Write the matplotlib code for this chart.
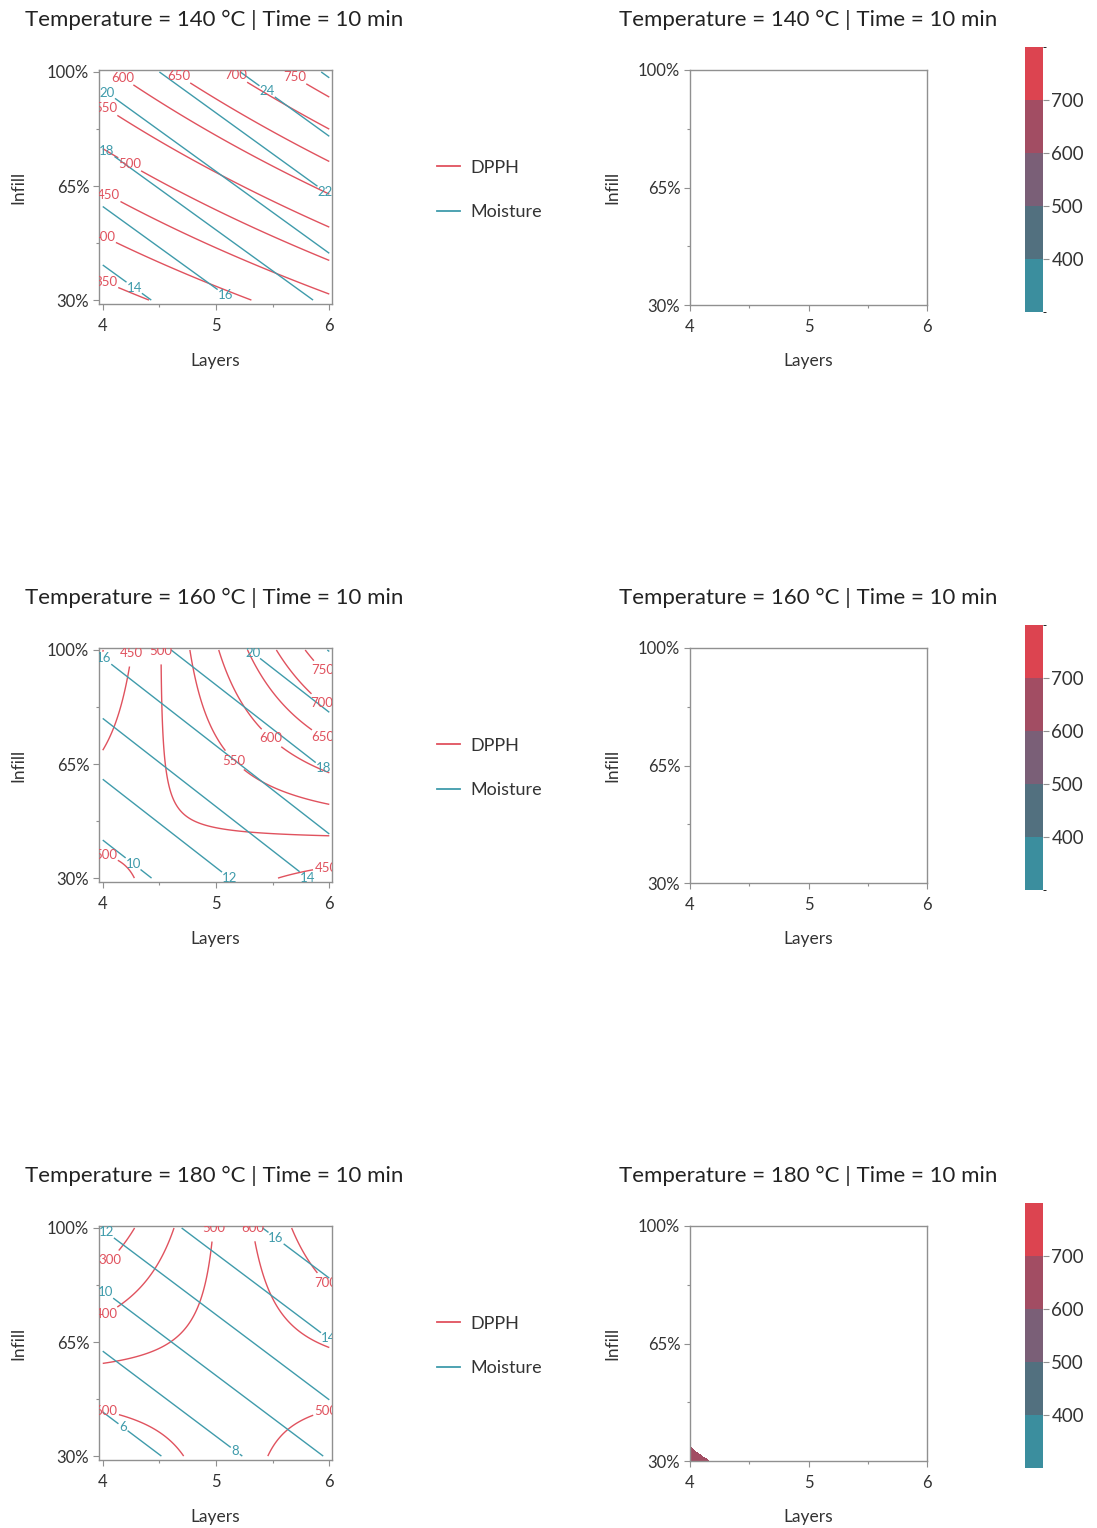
import numpy as np
import matplotlib.pyplot as plt
from matplotlib.colors import ListedColormap, BoundaryNorm
from matplotlib.lines import Line2D
import matplotlib.ticker as mticker

plt.rcParams['font.family'] = ['Lato', 'DejaVu Sans']

W, H = 1097, 1528

temperatures = [140, 160, 180]
time_min = 10

# response surfaces in coded units: x = layers - 5, y = (infill - 65) / 35
# terms: [const, x, y, x*y, x^2, y^2]
dpph_140 = [531.8, 77.8, 152.5, 21.7, 2.8, 2.9]
dpph_160 = [535.1, 78.5, 61.9, 117.9, 0.2, -1.7]
dpph_180 = [530.8, 76.9, -27.3, 211.7, 1.2, 3.3]
moist_140 = [19.5, 2.8, 3.9, 0, 0, 0]
moist_160 = [15.4, 2.9, 3.75, 0, 0, 0]
moist_180 = [11.1, 2.8, 3.75, 0, 0, 0]

dpph_levels_140 = [300, 350, 400, 450, 500, 550, 600, 650, 700, 750, 800]
dpph_levels_160 = [400, 450, 500, 550, 600, 650, 700, 750, 800]
dpph_levels_180 = [300, 400, 500, 600, 700, 800]
moist_levels = [4, 6, 8, 10, 12, 14, 16, 18, 20, 22, 24, 26]
moisture_max = 5

fill_levels = [300, 400, 500, 600, 700, 800]
fill_colors = ['#3b8e9e', '#52707f', '#7a5f77', '#a24d63', '#dc4450']
cbar_ticks = [400, 500, 600, 700]

# where the contour labels sit (layers, infill)
dpph_lab_140 = [(4.04, 36.3), (4.02, 50.0), (4.05, 61.9), (4.25, 72.4), (4.05, 89.9),
                (4.18, 98.6), (4.67, 98.6), (5.17, 98.6), (5.7, 98.6)]
moist_lab_140 = [(4.28, 33.9), (5.08, 31.4), (4.06, 76.9), (4.05, 94.0), (5.97, 63.6), (5.45, 94.0)]
dpph_lab_160 = [(4.26, 98.9), (4.51, 99.6), (5.17, 66.4), (5.49, 73.0), (5.94, 73.0),
                (5.93, 83.9), (5.93, 93.3), (4.02, 36.3), (5.97, 33.5)]
moist_lab_160 = [(4.02, 97.9), (4.27, 34.5), (5.14, 31.0), (5.81, 30.4), (5.96, 64.3), (5.34, 99.9)]
dpph_lab_180 = [(4.06, 90.2), (4.03, 73.6), (4.96, 99.9), (5.22, 99.3), (5.96, 82.8),
                (4.03, 43.6), (5.97, 43.6)]
moist_lab_180 = [(4.03, 98.6), (4.03, 80.4), (5.17, 31.6), (4.18, 38.9), (5.97, 65.0), (5.52, 96.4)]

dpph = {140: dpph_140, 160: dpph_160, 180: dpph_180}
moist = {140: moist_140, 160: moist_160, 180: moist_180}
dpph_levels = {140: dpph_levels_140, 160: dpph_levels_160, 180: dpph_levels_180}
dpph_lab = {140: dpph_lab_140, 160: dpph_lab_160, 180: dpph_lab_180}
moist_lab = {140: moist_lab_140, 160: moist_lab_160, 180: moist_lab_180}


def surface(c, L, I):
    x = L - 5
    y = (I - 65) / 35
    return c[0] + c[1] * x + c[2] * y + c[3] * x * y + c[4] * x ** 2 + c[5] * y ** 2


def rect(l, t, r, b):
    return [l / W, 1 - b / H, (r - l) / W, (b - t) / H]


red = '#e0525e'
teal = '#3f9bab'
spine_c = '#909090'
text_c = '#333333'

cmap = ListedColormap(fill_colors)
norm = BoundaryNorm(fill_levels, cmap.N)

layers = np.linspace(4, 6, 300)
infill = np.linspace(30, 100, 300)
L, I = np.meshgrid(layers, infill)

fig = plt.figure(figsize=(W / 100, H / 100), dpi=100)


def style_axes(ax):
    ax.set_xticks([4, 5, 6])
    ax.set_xticks([4.5, 5.5], minor=True)
    ax.set_yticks([30, 65, 100])
    ax.set_yticks([47.5, 82.5], minor=True)
    ax.yaxis.set_major_formatter(mticker.FuncFormatter(lambda v, p: f'{v:.0f}%'))
    ax.tick_params(which='major', direction='out', length=4, width=0.8, color=spine_c,
                   labelsize=12, labelcolor=text_c)
    ax.tick_params(axis='x', which='major', pad=6)
    ax.tick_params(axis='y', which='major', pad=3)
    ax.tick_params(which='minor', direction='out', length=2.5, width=0.8, color=spine_c)
    for s in ax.spines.values():
        s.set_color(spine_c)
        s.set_linewidth(1.0)
    ax.set_xlabel('Layers', fontsize=12.5, color=text_c)
    ax.set_ylabel('Infill', fontsize=12.5, color=text_c)
    ax.xaxis.label.set_va('center')
    ax.yaxis.label.set_va('center')


def add_labels(ax, cs, spots):
    ax.clabel(cs, fmt='%d', fontsize=9.5, inline=True, inline_spacing=2, manual=spots)
    for t in cs.labelTexts:
        t.set_rotation(0)
        t.set_clip_on(True)


for i, T in enumerate(temperatures):
    top = 70 + 578 * i
    title = f'Temperature = {T} °C | Time = {time_min} min'
    D = surface(dpph[T], L, I)
    M = surface(moist[T], L, I)

    # left: DPPH and moisture contour lines
    ax = fig.add_axes(rect(99, top, 332, top + 234))
    cs1 = ax.contour(L, I, D, levels=dpph_levels[T], colors=red, linewidths=1.0)
    cs2 = ax.contour(L, I, M, levels=moist_levels, colors=teal, linewidths=1.0)
    add_labels(ax, cs1, dpph_lab[T])
    add_labels(ax, cs2, moist_lab[T])
    ax.set_xlim(3.967, 6.024)
    ax.set_ylim(28.8, 100.6)
    style_axes(ax)
    ax.xaxis.set_label_coords(0.5, (234 - 291) / 234)
    ax.yaxis.set_label_coords((18 - 99) / 233, 0.5)
    fig.text(214.5 / W, 1 - (top - 50) / H, title, ha='center', va='center', fontsize=16, color='#222222')

    handles = [Line2D([], [], color=red, lw=1.3), Line2D([], [], color=teal, lw=1.3)]
    fig.legend(handles, ['DPPH', 'Moisture'], loc='center left',
               bbox_to_anchor=(421 / W, 1 - (top + 120) / H), frameon=False, fontsize=13,
               handlelength=1.25, handletextpad=0.6, labelspacing=1.6, labelcolor=text_c)

    # right: DPPH only where moisture stays under the limit
    ax2 = fig.add_axes(rect(690, top, 927, top + 235))
    ok = M <= moisture_max
    if ok.any():
        ax2.contourf(L, I, np.where(ok, D, np.nan), levels=fill_levels, cmap=cmap, norm=norm)
    ax2.set_xlim(4, 6)
    ax2.set_ylim(30, 100)
    style_axes(ax2)
    ax2.xaxis.set_label_coords(0.5, (235 - 291) / 235)
    ax2.yaxis.set_label_coords((612 - 690) / 237, 0.5)
    fig.text(808 / W, 1 - (top - 50) / H, title, ha='center', va='center', fontsize=16, color='#222222')

    cax = fig.add_axes(rect(1025, top - 23, 1043, top + 242))
    cb = fig.colorbar(plt.cm.ScalarMappable(norm=norm, cmap=cmap), cax=cax, ticks=cbar_ticks)
    cb.outline.set_visible(False)
    for s in cax.spines.values():
        s.set_visible(False)
    cax.yaxis.set_minor_locator(mticker.NullLocator())
    cax.tick_params(which='major', length=4, width=0.8, color=spine_c, labelsize=13.5, labelcolor=text_c, pad=2)

fig.savefig('out.png', dpi=100)
